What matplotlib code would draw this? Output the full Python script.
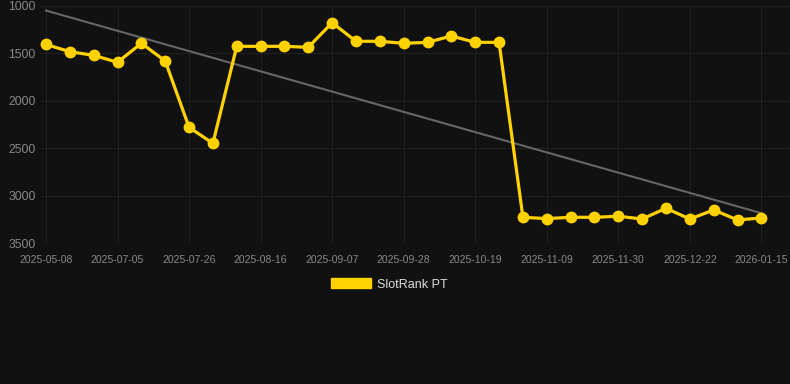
import matplotlib
matplotlib.use("Agg")
import matplotlib.pyplot as plt
import numpy as np
from matplotlib.patches import Patch

dates = ["2025-05-08", "2025-05-15", "2025-05-22", "2025-07-05", "2025-07-12", "2025-07-19",
         "2025-07-26", "2025-08-02", "2025-08-09", "2025-08-16", "2025-08-23", "2025-08-30",
         "2025-09-07", "2025-09-14", "2025-09-21", "2025-09-28", "2025-10-05", "2025-10-12",
         "2025-10-19", "2025-10-26", "2025-11-02", "2025-11-09", "2025-11-16", "2025-11-23",
         "2025-11-30", "2025-12-07", "2025-12-14", "2025-12-22", "2025-12-29", "2026-01-05",
         "2026-01-15"]
ranks = [1405, 1481, 1520, 1593, 1393, 1579, 2278, 2447, 1425, 1425, 1425, 1435,
         1176, 1372, 1372, 1393, 1383, 1316, 1383, 1383, 3226, 3240, 3226, 3226,
         3215, 3244, 3131, 3244, 3149, 3254, 3233]
series_name = "SlotRank PT"
yticks = [1000, 1500, 2000, 2500, 3000, 3500]

bg = "#111111"
fig = plt.figure(figsize=(7.9, 3.84), dpi=100, facecolor=bg)
ax = fig.add_axes([40/790, 1-243.3/384, 750/790, (243.3-6)/384])
ax.set_facecolor(bg)

x = np.arange(len(dates))
coef = np.polyfit(x, ranks, 1)
ax.plot(x, np.polyval(coef, x), color="#666666", lw=1.5, zorder=2)
ax.plot(x, ranks, color="#FFD200", lw=2.3, marker="o", markersize=7.5,
        markerfacecolor="#FFD200", markeredgecolor="#FFD200", zorder=3)

ax.set_ylim(3500, 1000)
ax.set_yticks(yticks)
ax.set_yticklabels([str(t) for t in yticks])
ax.set_xlim(-0.25, 31.2)
tick_idx = list(range(0, len(dates), 3))
ax.set_xticks(tick_idx)
ax.set_xticklabels([dates[i] for i in tick_idx])

for s in ax.spines.values():
    s.set_visible(False)
ax.grid(True, color="#202020", lw=0.8)
ax.set_axisbelow(True)
ax.tick_params(axis="x", colors="#888888", labelsize=7.5, length=0, pad=8.5)
ax.tick_params(axis="y", colors="#888888", labelsize=8.8, length=0, pad=3)
for lab in ax.get_xticklabels() + ax.get_yticklabels():
    lab.set_fontfamily("Liberation Sans")

leg = fig.legend(handles=[Patch(facecolor="#FFD200", edgecolor="#FFD200", label=series_name)],
                 loc="center", bbox_to_anchor=(389.5/790, 1-284.5/384), frameon=False,
                 handlelength=3.2, handleheight=0.85, handletextpad=0.48,
                 prop={"family": "Liberation Sans", "size": 9})
for t in leg.get_texts():
    t.set_color("#dddddd")

fig.savefig("out.png", dpi=100, facecolor=bg)
